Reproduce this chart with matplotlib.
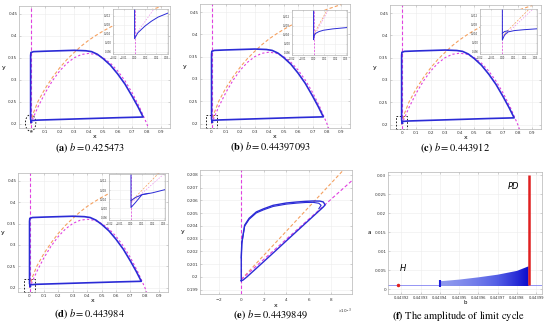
import numpy as np
import matplotlib
matplotlib.use("Agg")
import matplotlib.pyplot as plt
from matplotlib.patches import Ellipse, Rectangle
from matplotlib.colors import LinearSegmentedColormap
from matplotlib.ticker import ScalarFormatter, FormatStrFormatter

plt.rcParams['mathtext.fontset'] = 'stix'

BLUE = '#2b2bd6'
MAG = '#e040e0'
ORG = '#f4a060'

# ---- phase portraits (a)-(d): limit cycle and nullclines
cyc_x = [0.005, 0.0, 0.0, 0.002, 0.02, 0.1, 0.2, 0.3, 0.38, 0.42, 0.46, 0.5, 0.55,
         0.6, 0.65, 0.7, 0.74, 0.775, 0.6, 0.4, 0.2, 0.05, 0.01, 0.003, 0.005]
cyc_y = [0.203, 0.21, 0.355, 0.362, 0.364, 0.365, 0.366, 0.367, 0.366, 0.364, 0.358,
         0.348, 0.333, 0.313, 0.29, 0.262, 0.238, 0.215, 0.2135, 0.2115, 0.2095,
         0.208, 0.207, 0.2045, 0.203]

pink_x = [0, 0.05, 0.1, 0.15, 0.2, 0.25, 0.3, 0.35, 0.4, 0.45, 0.5, 0.55, 0.6,
          0.65, 0.7, 0.75, 0.8, 0.83]
pink_y = [0.2, 0.2375, 0.27, 0.2975, 0.32, 0.3375, 0.35, 0.3575, 0.36, 0.3575,
          0.35, 0.3375, 0.32, 0.2975, 0.27, 0.2375, 0.2, 0.173]

orng_x = [0, 0.02, 0.05, 0.1, 0.15, 0.2, 0.25, 0.3, 0.35, 0.4, 0.45, 0.5, 0.55,
          0.6, 0.7, 0.8, 0.9]
orng_y = [0.2, 0.225, 0.25, 0.28, 0.305, 0.327, 0.346, 0.362, 0.377, 0.39, 0.401,
          0.411, 0.42, 0.428, 0.443, 0.456, 0.467]

x_ticks = [0, 0.1, 0.2, 0.3, 0.4, 0.5, 0.6, 0.7, 0.8, 0.9]
y_ticks = [0.2, 0.25, 0.3, 0.35, 0.4, 0.45]

captions = [r"$\mathbf{(a)}\ b = 0.425473$",
            r"$\mathbf{(b)}\ b = 0.44397093$",
            r"$\mathbf{(c)}\ b = 0.443912$",
            r"$\mathbf{(d)}\ b = 0.443984$",
            r"$\mathbf{(e)}\ b = 0.4439849$"]

# ---- insets (zoom near the origin)
ins_blue = [
    ([0, 0, 0.003, 0.0096, 0.0157, 0.0218, 0.031],
     [0.215, 0.2018, 0.2044, 0.2074, 0.2096, 0.2114, 0.2132]),
    ([0, 0, 0.0004, 0.0019, 0.005, 0.0091, 0.0177, 0.031],
     [0.215, 0.2018, 0.2035, 0.2046, 0.2054, 0.206, 0.2066, 0.2072]),
    ([0, 0, 0.002, 0.005, 0.0106, 0.0193, 0.031],
     [0.215, 0.2012, 0.2035, 0.2048, 0.2054, 0.2058, 0.2062]),
    ([0, 0, 0.0041, 0.0102, 0.0194, 0.031],
     [0.215, 0.2034, 0.2048, 0.206, 0.2068, 0.2082]),
]
ins_blue2 = [
    None,
    None,
    ([0, 0.002, 0.005], [0.2042, 0.205, 0.2053]),
    ([0, 0, 0.0041, 0.0102, 0.0163], [0.2034, 0.2004, 0.2026, 0.2061, 0.2066]),
]
ins_pink = [([0, 0.018], [0.203, 0.215]),
            ([0.0005, 0.0137], [0.2035, 0.215]),
            ([0.0004, 0.0274], [0.2024, 0.215]),
            ([0.0005, 0.03], [0.2026, 0.215])]
ins_orng = [None,
            ([0.0, 0.0125], [0.204, 0.215]),
            ([0.0, 0.024], [0.203, 0.215]),
            ([0.0, 0.0245], [0.203, 0.215])]

# ---- panel (e)
e_cyc_x = [0.0, 0.0, 0.00005, 0.0003, 0.0007, 0.00134, 0.002, 0.00284, 0.004,
           0.00493, 0.0057, 0.0064, 0.0070, 0.0073, 0.00746, 0.0073, 0.006,
           0.0045, 0.003, 0.0015, 0.0005, 0.00015, 0.0]
e_cyc_y = [0.1997, 0.2015, 0.2027, 0.20406, 0.2046, 0.2051, 0.20535, 0.20562,
           0.2058, 0.20588, 0.20593, 0.20596, 0.20595, 0.20588, 0.20565, 0.20549,
           0.20444, 0.20323, 0.20201, 0.2008, 0.2, 0.19975, 0.1997]
e_cyc2_x = [0.0, 0.00005, 0.0003, 0.0007, 0.00134, 0.002, 0.00284, 0.004, 0.00493,
            0.0057, 0.0064, 0.0069, 0.0071, 0.0069]
e_cyc2_y = [0.2015, 0.2026, 0.20398, 0.20452, 0.20502, 0.20527, 0.20553, 0.20571,
            0.20579, 0.20584, 0.20585, 0.20578, 0.20562, 0.20535]
e_orng_x = [0.0, 0.0091]
e_orng_y = [0.1998, 0.2084]
e_pink_x = [0.0, 0.00985]
e_pink_y = [0.1998, 0.20756]
e_yticks = [0.199, 0.2, 0.201, 0.202, 0.203, 0.204, 0.205, 0.206, 0.207, 0.208]
e_xticks = [-0.002, 0, 0.002, 0.004, 0.006, 0.008]

# ---- panel (f): amplitude of limit cycle
hopf_b, hopf_a = [0.443918], [0.0012]
base_a = 0.0012
env_b = [0.44394, 0.443941, 0.44395, 0.44396, 0.44397, 0.44398, 0.443984, 0.443986]
env_top = [0.0022, 0.0021, 0.0025, 0.0031, 0.0038, 0.0048, 0.0056, 0.006]
env_bot = 0.0008
bar_b, bar_lo, bar_hi = 0.44394, 0.0006, 0.0024
pd_b, pd_lo, pd_hi = 0.443986, 0.0012, 0.0300
f_xticks = [0.44392, 0.44393, 0.44394, 0.44395, 0.44396, 0.44397, 0.44398, 0.44399]
f_yticks = [0, 0.005, 0.01, 0.015, 0.02, 0.025, 0.03]

W, H = 550, 329
fig = plt.figure(figsize=(W / 100, H / 100), dpi=100)


def box(l, t, r, b):
    return [l / W, 1 - b / H, (r - l) / W, (b - t) / H]


def style(ax, fs=3.0):
    for s in ax.spines.values():
        s.set_color('#b5b5b5')
        s.set_linewidth(0.5)
    ax.tick_params(direction='in', length=1.5, width=0.4, labelsize=fs,
                   colors='#b5b5b5', labelcolor='#333333', pad=1.2,
                   top=True, right=True)
    ax.grid(True, color='#ececec', lw=0.4)
    ax.set_axisbelow(True)


main_boxes = [(19, 6, 170, 128), (200, 4, 350, 128), (390, 5, 541, 129),
              (18, 173, 168, 292)]
inset_boxes = [(113, 9, 168, 54), (292, 10, 347, 55), (480, 9, 537, 54),
               (109, 174, 165, 220)]
cap_pos = [(90, 148), (270, 147), (455, 148), (90, 314), (270, 315)]
marks = ['ell', 'rect', 'rect', 'rect']

for i in range(4):
    ax = fig.add_axes(box(*main_boxes[i]))
    style(ax)
    ax.axvline(0, color=MAG, ls=(0, (3, 2)), lw=0.8)
    ax.plot(orng_x, orng_y, color=ORG, ls=(0, (3, 2)), lw=0.8)
    ax.plot(pink_x, pink_y, color=MAG, ls=(0, (2, 2)), lw=0.8)
    ax.plot(cyc_x, cyc_y, color=BLUE, lw=1.2)
    if marks[i] == 'ell':
        ax.add_patch(Ellipse((0, 0.2015), 0.072, 0.038, fill=False, ec='k',
                             ls=(0, (2, 2)), lw=0.6, clip_on=False))
    else:
        ax.add_patch(Rectangle((-0.038, 0.19), 0.078, 0.03, fill=False, ec='k',
                               ls=(0, (2, 2)), lw=0.6, clip_on=False))
    ax.set_xlim(-0.08, 0.96)
    ax.set_ylim(0.19, 0.468)
    ax.set_xticks(x_ticks)
    ax.set_yticks(y_ticks)
    ax.set_xticklabels(['%g' % v for v in x_ticks])
    ax.set_yticklabels(['%g' % v for v in y_ticks])
    ax.set_xlabel('x', fontsize=4.5, labelpad=0)
    ax.set_ylabel('y', fontsize=4.5, rotation=0, labelpad=3, va='center')

    ia = fig.add_axes(box(*inset_boxes[i]))
    style(ia, fs=1.8)
    ia.tick_params(length=1)
    ia.axvline(0, color=MAG, ls=(0, (3, 2)), lw=0.5)
    if ins_orng[i] is not None:
        ia.plot(*ins_orng[i], color=ORG, ls=(0, (3, 2)), lw=0.5)
    ia.plot(*ins_pink[i], color=MAG, ls=(0, (2, 2)), lw=0.5, alpha=0.6)
    ia.plot(*ins_blue[i], color=BLUE, lw=0.7)
    if ins_blue2[i] is not None:
        ia.plot(*ins_blue2[i], color=BLUE, lw=0.7)
    ia.set_xlim(-0.02, 0.031)
    ia.set_ylim(0.195, 0.215)
    ia.set_xticks([-0.02, -0.01, 0, 0.01, 0.02, 0.03])
    ia.set_yticks([0.196, 0.2, 0.204, 0.208, 0.212])

# panel (e)
ax = fig.add_axes(box(200, 170, 352, 294))
style(ax)
ax.axvline(0, color=MAG, ls=(0, (3, 2)), lw=0.8)
ax.plot(e_orng_x, e_orng_y, color=ORG, ls=(0, (3, 2)), lw=0.8)
ax.plot(e_pink_x, e_pink_y, color=MAG, ls=(0, (3, 2)), lw=0.8)
ax.plot(e_cyc_x, e_cyc_y, color=BLUE, lw=1.0)
ax.plot(e_cyc2_x, e_cyc2_y, color=BLUE, lw=0.8)
ax.set_xlim(-0.00367, 0.00985)
ax.set_ylim(0.19866, 0.20839)
ax.set_xticks(e_xticks)
ax.set_yticks(e_yticks)
fmt = ScalarFormatter(useMathText=True)
fmt.set_powerlimits((-2, 2))
ax.xaxis.set_major_formatter(fmt)
ax.set_yticklabels(['%g' % v for v in e_yticks])
ax.xaxis.get_offset_text().set_fontsize(3)
ax.set_xlabel('x', fontsize=4.5, labelpad=0)
ax.set_ylabel('y', fontsize=4.5, rotation=0, labelpad=3, va='center')

# panel (f)
ax = fig.add_axes(box(388, 172, 542, 294))
style(ax)
ax.axhline(base_a, color='#6a6af0', lw=0.5)
ax.plot(hopf_b, hopf_a, 'o', color='#e02020', ms=1.5)
poly = ax.fill_between(env_b, env_bot, env_top, color='none', lw=0)
cmap = LinearSegmentedColormap.from_list('bl', ['#8f99ee', '#5560e6', '#0b0bcc'])
grad = np.linspace(0, 1, 256) ** 1.5
img = ax.imshow(grad[None, :], extent=[env_b[0], env_b[-1], env_bot, max(env_top)],
                aspect='auto', cmap=cmap, origin='lower', zorder=2)
img.set_clip_path(poly.get_paths()[0], transform=ax.transData)
ax.vlines(bar_b, bar_lo, bar_hi, color='#1a1ad8', lw=1.5, zorder=3)
ax.vlines(pd_b, pd_lo, pd_hi, color='#e02020', lw=1.8, zorder=4)
ax.text(0.443921, 0.0055, 'H', fontsize=6, style='italic', ha='center', va='center')
ax.text(0.443978, 0.0271, 'PD', fontsize=6, style='italic', ha='center', va='center')
ax.set_xlim(0.443913, 0.443993)
ax.set_ylim(-0.0013, 0.0309)
ax.set_xticks(f_xticks)
ax.set_yticks(f_yticks)
ax.xaxis.set_major_formatter(FormatStrFormatter('%.5f'))
ax.set_yticklabels(['%g' % v for v in f_yticks])
ax.tick_params(axis='x', labelsize=2.7)
ax.set_xlabel('b', fontsize=4, labelpad=0.5)
ax.set_ylabel('a', fontsize=4, rotation=0, labelpad=4, va='center')

for (cx, cy), txt in zip(cap_pos, captions):
    fig.text(cx / W, 1 - cy / H, txt, fontsize=7.5, ha='center', va='center')
fig.text(458 / W, 1 - 316 / H, r"$\mathbf{(f)}$ The amplitude of limit cycle",
         fontsize=7.5, ha='center', va='center', family='STIXGeneral')

fig.savefig('out.png', dpi=100)
